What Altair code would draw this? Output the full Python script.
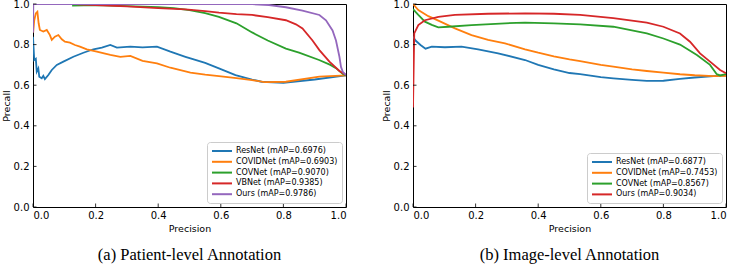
import altair as alt
import pandas as pd

# ---------------- Panel (a): Patient-level Annotation ----------------
A_NAMES = ["ResNet", "COVIDNet", "COVNet", "VBNet", "Ours"]
A_MAP = ["0.6976", "0.6903", "0.9070", "0.9385", "0.9786"]
A_COLORS = ["#1f77b4", "#ff7f0e", "#2ca02c", "#d62728", "#9467bd"]

A_RESNET_X = [0.0, 0.004, 0.009, 0.012, 0.017, 0.02, 0.028, 0.033, 0.038, 0.049, 0.06, 0.076,
              0.097, 0.129, 0.161, 0.193, 0.22, 0.247, 0.268, 0.311, 0.35, 0.396, 0.439, 0.487,
              0.503, 0.55, 0.594, 0.647, 0.70, 0.73, 0.80, 0.90, 1.0]
A_RESNET_Y = [0.839, 0.724, 0.73, 0.667, 0.683, 0.642, 0.634, 0.646, 0.63, 0.65, 0.675, 0.70,
              0.716, 0.74, 0.76, 0.777, 0.785, 0.798, 0.785, 0.79, 0.786, 0.79, 0.765, 0.74,
              0.732, 0.71, 0.683, 0.65, 0.628, 0.617, 0.612, 0.628, 0.648]

A_COVIDNET_X = [0.0, 0.0005, 0.004, 0.009, 0.014, 0.018, 0.022, 0.033, 0.044, 0.054, 0.06, 0.07,
                0.081, 0.092, 0.102, 0.118, 0.134, 0.15, 0.172, 0.204, 0.247, 0.279, 0.311,
                0.35, 0.396, 0.439, 0.503, 0.55, 0.594, 0.65, 0.70, 0.74, 0.808, 0.915, 1.0]
A_COVIDNET_Y = [1.0, 0.86, 0.92, 0.954, 0.962, 0.905, 0.872, 0.864, 0.872, 0.847, 0.823, 0.839,
                0.847, 0.826, 0.814, 0.81, 0.798, 0.79, 0.777, 0.765, 0.749, 0.74, 0.744,
                0.72, 0.708, 0.686, 0.662, 0.652, 0.645, 0.635, 0.625, 0.615, 0.617, 0.642, 0.648]

A_COVNET_X = [0.125, 0.2, 0.3, 0.4, 0.45, 0.5, 0.55, 0.594, 0.65, 0.70, 0.75, 0.808, 0.85,
              0.914, 0.95, 0.968, 0.99, 1.0]
A_COVNET_Y = [0.992, 0.995, 0.99, 0.985, 0.98, 0.97, 0.955, 0.937, 0.905, 0.86, 0.82, 0.78,
              0.76, 0.724, 0.70, 0.684, 0.655, 0.648]

A_VBNET_X = [0.14, 0.2, 0.3, 0.4, 0.487, 0.55, 0.594, 0.65, 0.70, 0.75, 0.808, 0.84, 0.861,
             0.893, 0.915, 0.947, 0.979, 1.0]
A_VBNET_Y = [0.998, 0.995, 0.988, 0.98, 0.974, 0.965, 0.957, 0.95, 0.946, 0.935, 0.92, 0.90,
             0.88, 0.82, 0.773, 0.716, 0.67, 0.65]

A_OURS_X = [0.0, 0.001, 0.6, 0.70, 0.754, 0.808, 0.861, 0.915, 0.936, 0.957, 0.968, 0.979,
            0.984, 0.99, 1.0]
A_OURS_Y = [0.86, 1.0, 1.0, 0.999, 0.995, 0.984, 0.967, 0.946, 0.92, 0.87, 0.82, 0.74,
            0.69, 0.665, 0.65]

# ---------------- Panel (b): Image-level Annotation ----------------
B_NAMES = ["ResNet", "COVIDNet", "COVNet", "Ours"]
B_MAP = ["0.6877", "0.7453", "0.8567", "0.9034"]
B_COLORS = ["#1f77b4", "#ff7f0e", "#2ca02c", "#d62728"]

B_RESNET_X = [0.0, 0.008, 0.024, 0.04, 0.06, 0.102, 0.155, 0.208, 0.272, 0.358, 0.40, 0.45,
              0.50, 0.534, 0.60, 0.64, 0.70, 0.747, 0.80, 0.853, 0.90, 0.96, 1.0]
B_RESNET_Y = [0.839, 0.82, 0.798, 0.78, 0.79, 0.787, 0.79, 0.777, 0.757, 0.724, 0.70, 0.678,
              0.66, 0.655, 0.64, 0.634, 0.626, 0.621, 0.622, 0.631, 0.638, 0.645, 0.648]

B_COVIDNET_X = [0.0, 0.017, 0.049, 0.081, 0.134, 0.187, 0.24, 0.294, 0.358, 0.40, 0.45, 0.50,
                0.534, 0.60, 0.64, 0.70, 0.747, 0.80, 0.853, 0.90, 0.96, 1.0]
B_COVIDNET_Y = [1.0, 0.97, 0.94, 0.918, 0.88, 0.847, 0.823, 0.806, 0.777, 0.76, 0.742, 0.727,
                0.719, 0.70, 0.691, 0.678, 0.67, 0.662, 0.654, 0.649, 0.645, 0.646]

B_COVNET_X = [0.0, 0.017, 0.038, 0.06, 0.081, 0.113, 0.187, 0.294, 0.358, 0.45, 0.534, 0.64,
              0.747, 0.80, 0.853, 0.907, 0.949, 0.97, 0.981, 1.0]
B_COVNET_Y = [0.975, 0.946, 0.913, 0.897, 0.885, 0.888, 0.896, 0.905, 0.908, 0.905, 0.90, 0.888,
              0.855, 0.83, 0.80, 0.749, 0.70, 0.655, 0.648, 0.655]

B_OURS_X = [0.0, 0.004, 0.017, 0.038, 0.081, 0.134, 0.24, 0.358, 0.45, 0.534, 0.64, 0.747,
            0.80, 0.853, 0.885, 0.917, 0.949, 0.981, 1.0]
B_OURS_Y = [0.49, 0.855, 0.896, 0.92, 0.937, 0.946, 0.952, 0.954, 0.952, 0.946, 0.93, 0.908,
            0.888, 0.855, 0.814, 0.757, 0.716, 0.675, 0.659]

TICKS = [0.0, 0.2, 0.4, 0.6, 0.8, 1.0]
X_TITLE = "Precision"
Y_TITLE = "Precall"
CAPTION_A = "(a) Patient-level Annotation"
CAPTION_B = "(b) Image-level Annotation"

W, H = 313, 203


def build_df(names, maps, series):
    rows = []
    for i, (n, m, (xs, ys)) in enumerate(zip(names, maps, series)):
        lab = f"{n} (mAP={m})"
        for j, (x, y) in enumerate(zip(xs, ys)):
            rows.append({"x": x, "y": y, "label": lab, "k": i, "j": j})
    return pd.DataFrame(rows)


def panel(names, maps, colors, series, caption):
    df = build_df(names, maps, series)
    labels = [f"{n} (mAP={m})" for n, m in zip(names, maps)]
    sx = alt.Scale(domain=[0, 1], nice=False, zero=False)
    sy = alt.Scale(domain=[0, 1], nice=False, zero=False)
    xaxis = alt.Axis(values=TICKS, format=".1f", title=X_TITLE, labelPadding=3, titlePadding=3)
    yaxis = alt.Axis(values=TICKS, format=".1f", title=Y_TITLE, labelPadding=4, titlePadding=2)
    lines = alt.Chart(df).mark_line(strokeWidth=1.8, clip=True).encode(
        x=alt.X("x:Q", scale=sx, axis=xaxis),
        y=alt.Y("y:Q", scale=sy, axis=yaxis),
        color=alt.Color("label:N", scale=alt.Scale(domain=labels, range=colors),
                        legend=alt.Legend(title=None, orient="bottom-right", offset=4)),
        detail="k:N",
        order="j:Q",
    )
    xt = alt.Chart(pd.DataFrame({"x": TICKS})).mark_rule(color="black", strokeWidth=0.8).encode(
        x=alt.X("x:Q", scale=sx, axis=xaxis),
        y=alt.value(H), y2=alt.value(H - 3.5),
    )
    yt = alt.Chart(pd.DataFrame({"y": TICKS})).mark_rule(color="black", strokeWidth=0.8).encode(
        y=alt.Y("y:Q", scale=sy, axis=yaxis),
        x=alt.value(0), x2=alt.value(3.5),
    )
    return alt.layer(lines, xt, yt).properties(
        width=W, height=H,
        title=alt.TitleParams(text=caption, orient="bottom", font="Liberation Serif",
                              fontSize=16.5, fontWeight="normal", color="black",
                              offset=14, anchor="middle"),
    )


left = panel(A_NAMES, A_MAP, A_COLORS,
             [(A_RESNET_X, A_RESNET_Y), (A_COVIDNET_X, A_COVIDNET_Y), (A_COVNET_X, A_COVNET_Y),
              (A_VBNET_X, A_VBNET_Y), (A_OURS_X, A_OURS_Y)], CAPTION_A)
right = panel(B_NAMES, B_MAP, B_COLORS,
              [(B_RESNET_X, B_RESNET_Y), (B_COVIDNET_X, B_COVIDNET_Y), (B_COVNET_X, B_COVNET_Y),
               (B_OURS_X, B_OURS_Y)], CAPTION_B)

chart = alt.hconcat(left, right, spacing=67, bounds="flush").resolve_scale(
    color="independent"
).properties(
    padding={"left": 0, "top": -2, "right": 0, "bottom": 0}
).configure_view(
    stroke="black", strokeWidth=1
).configure_axis(
    grid=False, ticks=False, domain=False,
    labelFont="DejaVu Sans", labelFontSize=10, labelColor="black",
    titleFont="DejaVu Sans", titleFontSize=9.5, titleFontWeight="normal", titleColor="black",
).configure_legend(
    labelFont="DejaVu Sans", labelFontSize=8, labelColor="black",
    symbolType="M-1,0H4", symbolSize=64, symbolStrokeWidth=2,
    strokeColor="#cccccc", fillColor="white", padding=4, cornerRadius=3,
    rowPadding=1.8, labelOffset=15,
)

chart.save("out.html", embed_options={"renderer": "svg", "actions": False})
